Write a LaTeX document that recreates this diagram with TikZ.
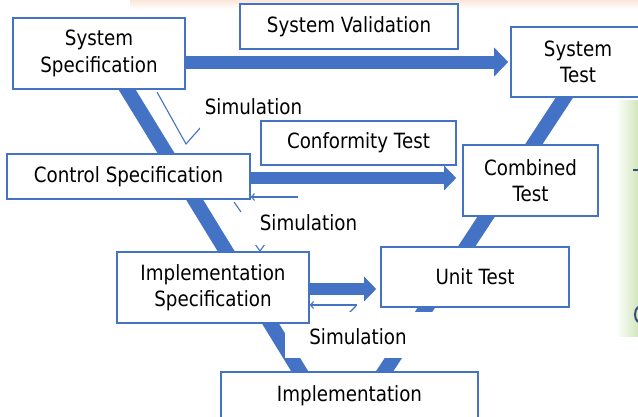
\documentclass[tikz,border=0pt]{standalone}
\usepackage{fontspec}
\setmainfont{DejaVu Sans}[FakeStretch=0.87]
\usetikzlibrary{arrows.meta,calc}
\definecolor{vblue}{HTML}{4472C4}
\definecolor{panelgreen}{HTML}{D2E6BC}
\definecolor{inkblue}{HTML}{2F4F7F}
\definecolor{peach}{HTML}{FCE6DA}
\newcommand\vfont{\fontsize{21}{26.5}\selectfont}
\pgfdeclarelayer{ground}
\pgfdeclarelayer{lines}
\pgfdeclarelayer{marks}
\pgfsetlayers{ground,lines,marks,main}
\begin{document}
\begin{tikzpicture}[x=1pt,y=-1pt,
  box/.style={draw=vblue, line width=1.6pt, fill=white, inner sep=0pt, align=center, font=\vfont},
  lbl/.style={inner sep=0pt, font=\vfont},
  vline/.style={draw=vblue, line width=14.5pt},
  flowA/.style={vblue, line width=13pt, -{Triangle[length=14pt,width=28pt]}},
  flowB/.style={vblue, line width=12pt, -{Triangle[length=12pt,width=24pt]}},
  simline/.style={draw=vblue, line width=1.1pt, line join=miter},
  simarrow/.style={simline, -{Straight Barb[length=3pt,width=7pt]}},
]
\useasboundingbox (0,0) rectangle (638,416);
\clip (0,0) rectangle (638,416);
\begin{pgfonlayer}{ground}
  \fill[white] (0,0) rectangle (638,416);
  % faint slide background tints
  \shade[top color=peach, bottom color=white] (130,0) rectangle (638,9);
  \shade[left color=white, right color=panelgreen] (616,100) rectangle (638,336);
  \draw[inkblue, line width=2pt] (633,170) -- (638,170);
  \draw[inkblue, line width=2pt] (638,307) .. controls (634,310) and (634,319) .. (638,322);
\end{pgfonlayer}

% white label backgrounds and labels
\fill[white] (200,88) rectangle (315,130);
\fill[white] (243,210) rectangle (375,245);
\fill[white] (285,312) rectangle (440,358);
\node[lbl] (sim1) at (253.5,107) {Simulation};
\node[lbl] (sim2) at (308.5,222.5) {Simulation};
\node[lbl] (sim3) at (358,337) {Simulation};

% boxes
\node[box, minimum width=172pt, minimum height=71pt] (sysspec) at (99,53.5) {System\\Specification};
\node[box, minimum width=218pt, minimum height=45pt] (sysval) at (349,26.5) {System Validation};
\node[box, minimum width=134pt, minimum height=70pt] (systest) at (578,62) {System\\Test};
\node[box, minimum width=195pt, minimum height=44pt] (conf) at (358.5,143) {Conformity Test};
\node[box, minimum width=243pt, minimum height=45pt] (ctrlspec) at (128.5,176.5) {Control Specification};
\node[box, minimum width=135pt, minimum height=71pt] (combined) at (530.5,180.5) {Combined\\Test};
\node[box, minimum width=192pt, minimum height=71pt] (implspec) at (213,287.5) {Implementation\\Specification};
\node[box, minimum width=188pt, minimum height=60pt] (unittest) at (475,277) {Unit Test};
\node[box, minimum width=257pt, minimum height=48pt] (impl) at (349.5,396) {Implementation};

% the V: specification branch down, test branch up
\coordinate (l1) at (121.2,80);
\coordinate (l2) at (305.1,380);
\coordinate (r1) at (572.7,85);
\coordinate (r2) at (378.9,380);
\begin{pgfonlayer}{lines}
  \draw[vline] (l1) -- (l2);
  \draw[vline] (r1) -- (r2);
  \draw[flowA] (sysspec.east |- systest.west) -- ([xshift=-2pt]systest.west);
  \draw[flowB] ([yshift=-1.5pt]ctrlspec.east) -- ([xshift=-6pt,yshift=-1.5pt]ctrlspec.east -| combined.west);
  \draw[flowB] ([yshift=-1.5pt]implspec.east) -- ([xshift=-4pt,yshift=-1.5pt]implspec.east -| unittest.west);
\end{pgfonlayer}

% simulation feedback arrows
\begin{pgfonlayer}{marks}
  \draw[simline] (157,92) -- (186,144) -- (201,127);
  \draw[simarrow] (298,197) -- (ctrlspec.east |- 0,197);
  \draw[simline] (234,202) -- (241,212);
  \draw[simline] (255,244) -- (260,251) -- (265,244);
  \draw[simarrow] (357,305) -- (implspec.east |- 0,305);
  \draw[simline] (349,313) -- (356,306);
\end{pgfonlayer}
\end{tikzpicture}
\end{document}
